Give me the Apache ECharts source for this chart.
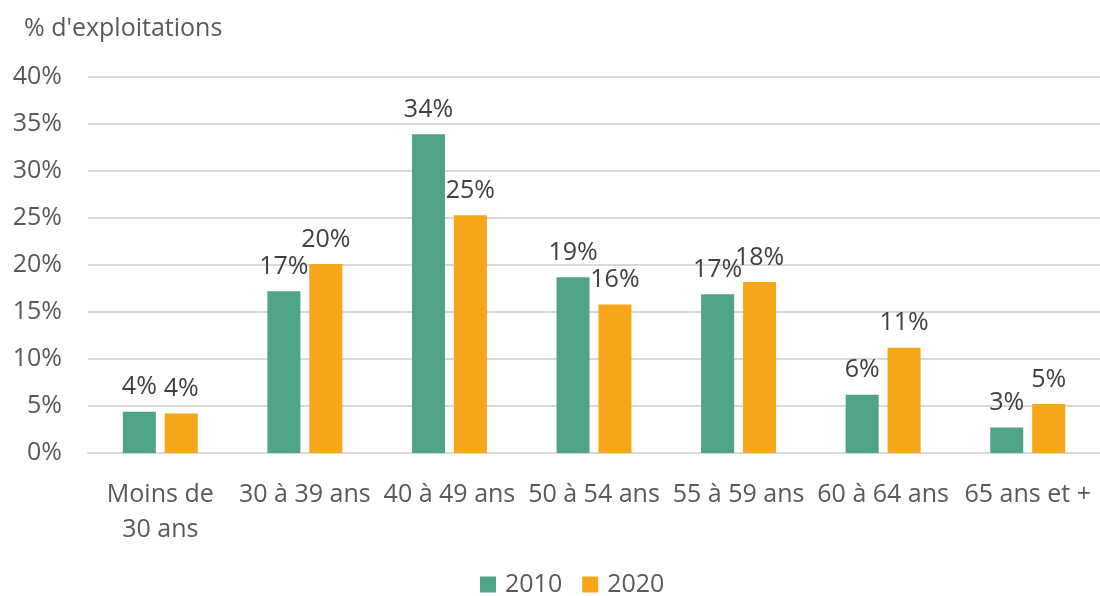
<!DOCTYPE html>
<html><head><meta charset="utf-8">
<script src="https://cdn.jsdelivr.net/npm/echarts@6/dist/echarts.min.js"></script>
<style>html,body{margin:0;padding:0;background:#fff}#c{width:1100px;height:596px}</style>
</head><body><div id="c"></div>
<script>
const categories = ['Moins de\n30 ans','30 à 39 ans','40 à 49 ans','50 à 54 ans','55 à 59 ans','60 à 64 ans','65 ans et +'];
const values2010 = [4.4, 17.2, 33.9, 18.7, 16.9, 6.2, 2.7];
const values2020 = [4.2, 20.1, 25.3, 15.8, 18.2, 11.2, 5.2];
const yTicks = [0, 5, 10, 15, 20, 25, 30, 35, 40];
const FONT = 'Open Sans';
const chart = echarts.init(document.getElementById('c'));
const lbl = {show:true, position:'top', distance:12, color:'#404040', fontSize:25, fontFamily:FONT,
  formatter: p => Math.round(p.value) + '%'};
chart.setOption({
  animation:false,
  textStyle:{fontFamily:FONT},
  title:{text:"% d'exploitations", left:19, top:11, textStyle:{color:'#595959', fontSize:25, fontWeight:'normal', fontFamily:FONT}},
  legend:{bottom:-6, left:475, itemWidth:16, itemHeight:16, itemGap:20, icon:'rect',
    textStyle:{color:'#595959', fontSize:25, fontFamily:FONT, padding:[0,0,0,4]}},
  grid:{left:88, top:77, width:1023, height:376, containLabel:false},
  xAxis:{type:'category', data:categories,
    axisLine:{lineStyle:{color:'#d9d9d9', width:2}}, axisTick:{show:false},
    axisLabel:{color:'#595959', fontSize:25, fontFamily:FONT, margin:24, lineHeight:35, interval:0}},
  yAxis:{type:'value', min:yTicks[0], max:yTicks[yTicks.length-1], interval:5,
    axisLabel:{color:'#595959', fontSize:25, fontFamily:FONT, formatter:'{value}%', margin:26, align:'right'},
    splitLine:{lineStyle:{color:'#d9d9d9', width:2}}, axisLine:{show:false}, axisTick:{show:false}},
  series:[
    {name:'2010', type:'bar', data:values2010, barWidth:33, barGap:'27%', itemStyle:{color:'#4fa387'}, label:lbl},
    {name:'2020', type:'bar', data:values2020, barWidth:33, itemStyle:{color:'#f7a619'}, label:lbl}
  ]
});
</script></body></html>
